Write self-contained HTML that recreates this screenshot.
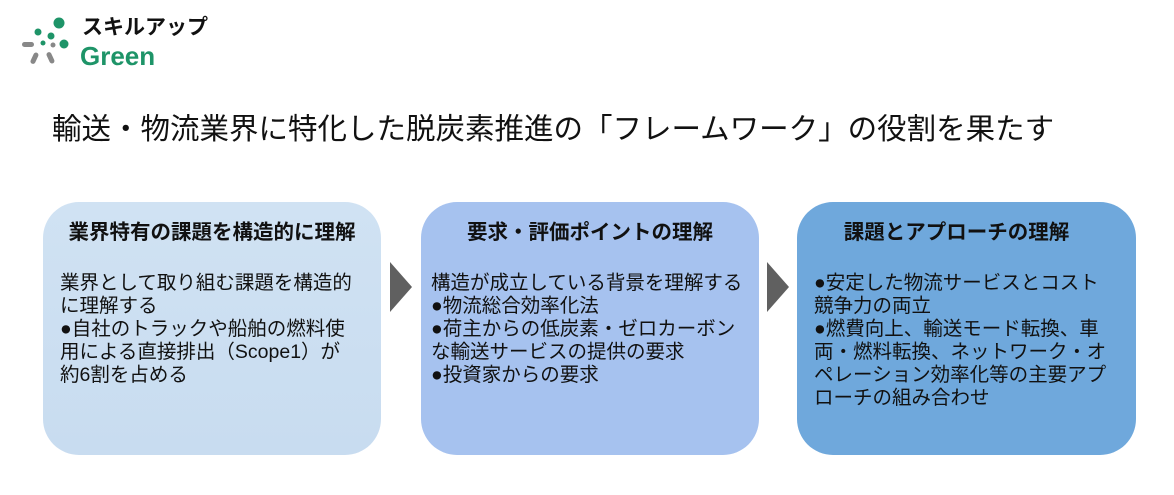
<!DOCTYPE html>
<html><head><meta charset="utf-8"><style>
body{margin:0;width:1174px;height:495px;background:#fff;position:relative;overflow:hidden;font-family:"Liberation Sans","Noto Sans CJK JP",sans-serif;color:#111}
.box{position:absolute;top:202px;height:253px;border-radius:36px;box-sizing:border-box}
.h{position:absolute;top:18px;left:0;right:0;text-align:center;font-weight:bold;font-size:20.5px;line-height:26px}
.t{position:absolute;top:70px;left:17px;font-size:19.5px;line-height:23px;white-space:nowrap}
.arr{position:absolute;top:262px;width:0;height:0;border-top:25px solid transparent;border-bottom:25px solid transparent;border-left:22px solid #606060}
</style></head><body>
<svg style="position:absolute;left:20px;top:14px" width="50" height="55">
<circle cx="39" cy="9" r="5.5" fill="#1e9468"/><circle cx="18" cy="18" r="3.5" fill="#1e9468"/>
<circle cx="31" cy="22" r="3.5" fill="#1e9468"/><circle cx="23" cy="29" r="2.5" fill="#1e9468"/>
<circle cx="33" cy="31" r="2.5" fill="#888"/><circle cx="44" cy="30" r="4.5" fill="#1e9468"/>
<rect x="2" y="28" width="12" height="5" rx="2.5" fill="#888"/>
<rect x="12" y="38" width="5" height="12" rx="2.5" fill="#888" transform="rotate(25 14 44)"/>
<rect x="28" y="38" width="5" height="12" rx="2.5" fill="#888" transform="rotate(-25 30 44)"/>
</svg>
<div style="position:absolute;left:82px;top:15px;font-size:21px;font-weight:bold;line-height:26px">スキルアップ</div>
<div style="position:absolute;left:80px;top:41px;font-size:26px;font-weight:bold;color:#1e9468;line-height:30px">Green</div>
<div style="position:absolute;left:52px;top:112px;font-size:29.5px;line-height:36px;white-space:nowrap">輸送・物流業界に特化した脱炭素推進の「フレームワーク」の役割を果たす</div>

<div class="box" style="left:43px;width:338px;background:linear-gradient(#d0e2f3,#c8dcf0)">
<div class="h">業界特有の課題を構造的に理解</div>
<div class="t">業界として取り組む課題を構造的<br>に理解する<br>●自社のトラックや船舶の燃料使<br>用による直接排出（Scope1）が<br>約6割を占める</div></div>
<div class="arr" style="left:390px"></div>
<div class="box" style="left:421px;width:338px;background:#a6c2ef">
<div class="h">要求・評価ポイントの理解</div>
<div class="t" style="left:10px">構造が成立している背景を理解する<br>●物流総合効率化法<br>●荷主からの低炭素・ゼロカーボン<br>な輸送サービスの提供の要求<br>●投資家からの要求</div></div>
<div class="arr" style="left:767px"></div>
<div class="box" style="left:797px;width:339px;background:#6fa8dc">
<div class="h" style="right:20px">課題とアプローチの理解</div>
<div class="t">●安定した物流サービスとコスト<br>競争力の両立<br>●燃費向上、輸送モード転換、車<br>両・燃料転換、ネットワーク・オ<br>ペレーション効率化等の主要アプ<br>ローチの組み合わせ</div></div>
</body></html>
